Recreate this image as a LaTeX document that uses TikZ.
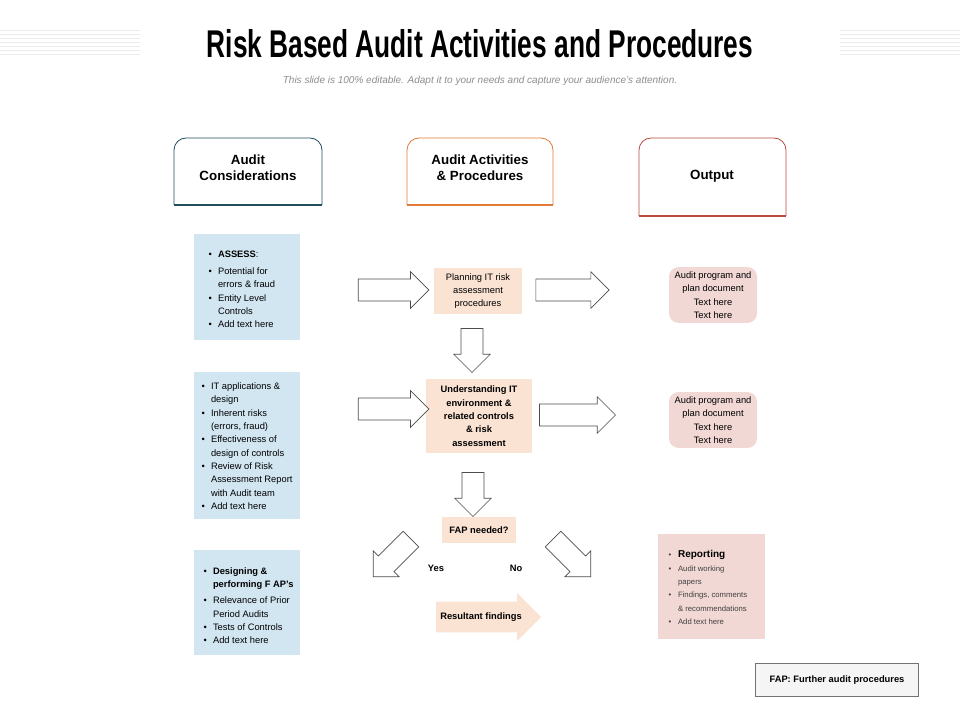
\documentclass[tikz,border=0pt]{standalone}
\usepackage{fontspec}
\setmainfont{Liberation Sans}
\usetikzlibrary{shapes.arrows}
\definecolor{tealc}{HTML}{1F4E5F}
\definecolor{orc}{HTML}{E07B39}
\definecolor{redc}{HTML}{B94A3E}
\definecolor{bluebox}{HTML}{D2E6F2}
\definecolor{peach}{HTML}{FAE3D3}
\definecolor{pinkbox}{HTML}{F2D8D5}
\tikzset{
  hdr/.style={draw=#1, rounded corners=9pt, fill=white, line width=0.6pt},
  hbar/.style={draw=#1, line width=2.2pt},
  txt/.style={font=\fontsize{7}{10}\selectfont, align=left},
  ctxt/.style={font=\fontsize{7}{10}\selectfont, align=center},
  outarrow/.style={single arrow, draw=black!70, fill=white, line width=0.5pt, inner xsep=0pt, inner ysep=8pt, single arrow head extend=5.5pt, minimum height=#1},
}
\newcommand{\bi}{\makebox[7pt][l]{\textbullet}}
\newcommand{\bc}{\hspace*{7pt}}
\begin{document}
\begin{tikzpicture}[x=0.75pt,y=-0.75pt]
\useasboundingbox (0,0) rectangle (960,720);
% decorative lines
\foreach \yy in {30,34,...,54}{
  \draw[black!8, line width=0.6pt] (0,\yy) -- (140,\yy);
  \draw[black!8, line width=0.6pt] (840,\yy) -- (960,\yy);
}
\node (title) at (480,44) {\scalebox{0.68}[1]{\fontsize{29}{32}\selectfont\bfseries Risk Based Audit Activities and Procedures}};
\node[text=black!45] (sub) at (480,81) {\fontsize{7.5}{9}\selectfont\itshape This slide is 100\% editable. Adapt it to your needs and capture your audience's attention.};
% headers
\draw[hdr=tealc] (174,205) -- (174,138) -- (322,138) -- (322,205);
\draw[hbar=tealc] (174,205) -- (322,205);
\node[font=\bfseries\fontsize{10}{12}\selectfont, align=center] (h1) at (248,168) {Audit\\Considerations};
\draw[hdr=orc] (407,205) -- (407,138) -- (553,138) -- (553,205);
\draw[hbar=orc] (407,205) -- (553,205);
\node[font=\bfseries\fontsize{10}{12}\selectfont, align=center] (h2) at (480,168) {Audit Activities\\\& Procedures};
\draw[hdr=redc] (639,216) -- (639,138) -- (786,138) -- (786,216);
\draw[hbar=redc] (639,216) -- (786,216);
\node[font=\bfseries\fontsize{10}{12}\selectfont] (h3) at (712,176) {Output};
% left boxes
\fill[bluebox] (194,234) rectangle (300,340);
\node[txt, anchor=north west] (l1) at (204,246) {\bi\textbf{ASSESS}:\\[3pt]\bi Potential for\\\bc errors \& fraud\\\bi Entity Level\\\bc Controls\\\bi Add text here};
\fill[bluebox] (194,372) rectangle (300,519);
\node[txt, anchor=north west] (l2) at (197,378) {\bi IT applications \&\\\bc design\\\bi Inherent risks\\\bc (errors, fraud)\\\bi Effectiveness of\\\bc design of controls\\\bi Review of Risk\\\bc Assessment Report\\\bc with Audit team\\\bi Add text here};
\fill[bluebox] (194,550) rectangle (300,655);
\node[txt, anchor=north west] (l3) at (199,563) {\bi\textbf{Designing \&}\\\bc\textbf{performing F AP's}\\[2pt]\bi Relevance of Prior\\\bc Period Audits\\\bi Tests of Controls\\\bi Add text here};
% centre
\node[fill=peach, minimum width=66pt, minimum height=34pt, ctxt] (plan) at (478,291) {Planning IT risk\\assessment\\procedures};
\node[fill=peach, minimum width=80pt, minimum height=55pt, ctxt, font=\bfseries\fontsize{7}{10}\selectfont] (und) at (479,416) {Understanding IT\\environment \&\\related controls\\\& risk\\assessment};
\node[fill=peach, minimum width=55pt, minimum height=19pt, font=\bfseries\fontsize{7}{9}\selectfont] (fap) at (479,530) {FAP needed?};
% output boxes
\node[fill=pinkbox, rounded corners=7pt, minimum width=66pt, minimum height=41pt, ctxt] (o1) at (713,295) {Audit program and\\plan document\\Text here\\Text here};
\node[fill=pinkbox, rounded corners=7pt, minimum width=66pt, minimum height=41pt, ctxt] (o2) at (713,420) {Audit program and\\plan document\\Text here\\Text here};
\fill[pinkbox] (658,534) rectangle (765,639);
\node[anchor=north west, align=left, font=\fontsize{5.8}{10}\selectfont, text=black!75] (rep) at (664,546) {\bi{\fontsize{7.5}{9}\selectfont\bfseries\color{black} Reporting}\\\bi Audit working\\\bc papers\\\bi Findings, comments\\\bc \& recommendations\\\bi Add text here};
% arrows
\node[outarrow=53pt] (a1) at (388,290) {};
\node[outarrow=55pt] (a2) at (567,290) {};
\node[outarrow=53pt] (a3) at (388,409) {};
\node[outarrow=57pt] (a4) at (572,415) {};
\node[outarrow=33pt, rotate=-90] (d1) at (472,345) {};
\node[outarrow=33pt, rotate=-90] (d2) at (473,489) {};
\node[outarrow=40pt, rotate=-135] (dl) at (396,554) {};
\node[outarrow=40pt, rotate=-45] (dr) at (568,554) {};
\node[font=\bfseries\fontsize{7}{9}\selectfont] (yes) at (436,568) {Yes};
\node[font=\bfseries\fontsize{7}{9}\selectfont] (no) at (516,568) {No};
\node[single arrow, fill=peach, minimum height=76pt, minimum width=36pt, single arrow head extend=6pt, inner ysep=7pt, inner xsep=3pt, font=\bfseries\fontsize{7}{9}\selectfont] (res) at (481,617) {Resultant findings\hspace{6pt}};
% legend
\node[draw=black!55, fill=black!4, minimum width=122pt, minimum height=25pt, font=\bfseries\fontsize{7}{9}\selectfont] (leg) at (837,680) {FAP: Further audit procedures\hspace{14pt}};
\end{tikzpicture}
\end{document}
